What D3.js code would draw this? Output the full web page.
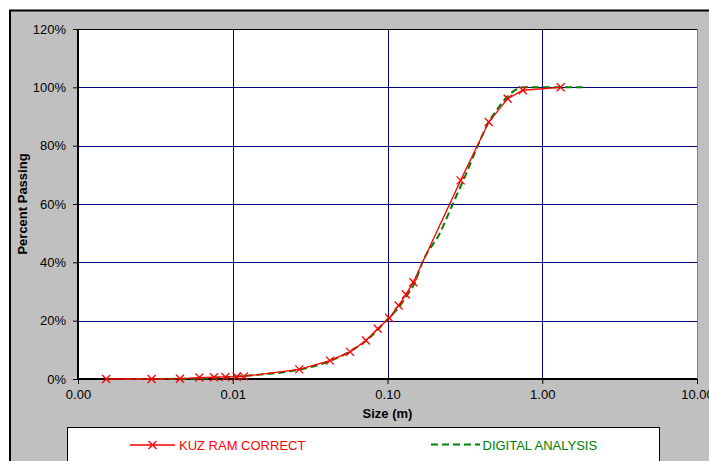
<!DOCTYPE html>
<html>
<head>
<meta charset="utf-8">
<script src="https://cdn.jsdelivr.net/npm/d3@7"></script>
<style>
  body { margin: 0; background: #fff; }
  svg { display: block; font-family: Arial, "Liberation Sans", sans-serif; }
</style>
</head>
<body>
<svg width="709" height="461"></svg>
<script>
// KUZ RAM CORRECT series (size in m, percent passing)
var kuzSize = [0.00152, 0.00299, 0.00456, 0.00608, 0.00757, 0.00896, 0.0106, 0.0118,
               0.0269, 0.0425, 0.0573, 0.0726, 0.0865, 0.1027, 0.118, 0.1316, 0.1468,
               0.297, 0.451, 0.598, 0.748, 1.316];
var kuzPass = [0, 0, 0.1, 0.5, 0.6, 0.7, 0.8, 0.9,
               3.3, 6.3, 9.3, 13.2, 17.2, 20.9, 25.2, 29.0, 33.2,
               68.1, 88.1, 96.1, 99.0, 100];

// DIGITAL ANALYSIS series
var digSize = [0.002, 0.003, 0.005, 0.007, 0.01, 0.015, 0.027, 0.043, 0.057, 0.073,
               0.087, 0.1, 0.12, 0.135, 0.15, 0.168, 0.218, 0.264, 0.32, 0.383,
               0.45, 0.52, 0.6, 0.68, 0.75, 1.0, 1.4, 1.9];
var digPass = [0, 0, 0.1, 0.3, 0.8, 1.5, 3.2, 6.3, 9.4, 13.2,
               17, 20.5, 25, 29, 33, 40, 50, 60, 70, 80,
               88, 93, 97, 99.3, 100, 100, 100, 100];

var xTicks = [0.001, 0.01, 0.1, 1, 10];
var xTickLabels = ["0.00", "0.01", "0.10", "1.00", "10.00"];
var yTicks = [0, 20, 40, 60, 80, 100, 120];

var svg = d3.select("svg"),
    margin = {top: 29, right: 12, bottom: 82, left: 78},
    width = 709 - margin.left - margin.right,
    height = 461 - margin.top - margin.bottom;

// outer chart area
svg.append("rect")
    .attr("x", 10).attr("y", 10.5)
    .attr("width", 720).attr("height", 460)
    .attr("fill", "#c0c0c0")
    .attr("stroke", "#000").attr("stroke-width", 2);

var g = svg.append("g").attr("transform", "translate(" + margin.left + "," + margin.top + ")");

var x = d3.scaleLog().domain([0.001, 10]).range([0, width]);
var y = d3.scaleLinear().domain([0, 120]).range([height, 0]);

// plot area
g.append("rect")
    .attr("width", width).attr("height", height)
    .attr("fill", "#fff");

// gridlines
g.selectAll(".hgrid")
    .data(yTicks.filter(function(d) { return d > 0 && d < 120; }))
  .enter().append("line")
    .attr("x1", 0).attr("x2", width)
    .attr("y1", function(d) { return Math.round(y(d)) + 0.5; })
    .attr("y2", function(d) { return Math.round(y(d)) + 0.5; })
    .attr("stroke", "#000080").attr("stroke-width", 1);

g.selectAll(".vgrid")
    .data(xTicks.slice(1, -1))
  .enter().append("line")
    .attr("x1", function(d) { return Math.round(x(d)) + 0.5; })
    .attr("x2", function(d) { return Math.round(x(d)) + 0.5; })
    .attr("y1", 0).attr("y2", height)
    .attr("stroke", "#000080").attr("stroke-width", 1);

// plot border
g.append("line").attr("x1", width + 0.5).attr("x2", width + 0.5)
    .attr("y1", 0).attr("y2", height).attr("stroke", "#808080");
g.append("line").attr("x1", 0).attr("x2", width)
    .attr("y1", 0.5).attr("y2", 0.5).attr("stroke", "#000");

// axes
var yAxis = g.append("g")
    .call(d3.axisLeft(y).tickValues(yTicks).tickSize(5).tickPadding(7)
      .tickFormat(function(d) { return d + "%"; }));
var xAxis = g.append("g")
    .attr("transform", "translate(0," + height + ")")
    .call(d3.axisBottom(x).tickValues(xTicks).tickSize(5).tickPadding(6)
      .tickFormat(function(d, i) { return xTickLabels[i]; }));

[yAxis, xAxis].forEach(function(a) {
  a.select(".domain").attr("stroke", "#000").attr("stroke-width", 2);
  a.selectAll(".tick line").attr("stroke", "#000");
  a.selectAll("text").attr("font-size", 13).attr("fill", "#000")
    .attr("font-family", "Arial, 'Liberation Sans', sans-serif");
});
xAxis.select(".domain").attr("d", "M0,0H" + width);
yAxis.select(".domain").attr("d", "M0,0V" + height);

// axis titles
svg.append("text")
    .attr("x", margin.left + x(0.1)).attr("y", 418)
    .attr("text-anchor", "middle")
    .attr("font-size", 13).attr("font-weight", "bold")
    .text("Size (m)");
svg.append("text")
    .attr("transform", "translate(27," + (margin.top + y(60)) + ") rotate(-90)")
    .attr("text-anchor", "middle")
    .attr("font-size", 13).attr("font-weight", "bold")
    .text("Percent Passing");

// lines
var kuz = kuzSize.map(function(s, i) { return {s: s, p: kuzPass[i]}; });
var dig = digSize.map(function(s, i) { return {s: s, p: digPass[i]}; });

var line = d3.line()
    .x(function(d) { return x(d.s); })
    .y(function(d) { return y(d.p); });

g.append("path")
    .datum(dig)
    .attr("fill", "none")
    .attr("stroke", "#008000")
    .attr("stroke-width", 2)
    .attr("stroke-dasharray", "7,4")
    .attr("d", line.curve(d3.curveMonotoneX));

g.append("path")
    .datum(kuz)
    .attr("fill", "none")
    .attr("stroke", "#ff0000")
    .attr("stroke-width", 1.3)
    .attr("d", line.curve(d3.curveLinear));

function cross(sel, r) {
  sel.append("path")
    .attr("d", "M" + (-r) + "," + (-r) + "L" + r + "," + r + "M" + (-r) + "," + r + "L" + r + "," + (-r))
    .attr("stroke", "#ff0000").attr("stroke-width", 1.3).attr("fill", "none");
}

g.selectAll(".mk")
    .data(kuz)
  .enter().append("g")
    .attr("transform", function(d) { return "translate(" + x(d.s) + "," + y(d.p) + ")"; })
    .each(function() { cross(d3.select(this), 4); });

// legend
var lg = svg.append("g");
lg.append("rect")
    .attr("x", 67.5).attr("y", 427.5)
    .attr("width", 592).attr("height", 60)
    .attr("fill", "#fff").attr("stroke", "#000").attr("stroke-width", 1);

lg.append("line").attr("x1", 130).attr("x2", 175).attr("y1", 445).attr("y2", 445)
    .attr("stroke", "#ff0000").attr("stroke-width", 1.3);
cross(lg.append("g").attr("transform", "translate(152.5,445)"), 4);
lg.append("text").attr("x", 179).attr("y", 449.5)
    .attr("font-size", 13).attr("fill", "#ff0000").text("KUZ RAM CORRECT");

lg.append("line").attr("x1", 431).attr("x2", 480).attr("y1", 444.5).attr("y2", 444.5)
    .attr("stroke", "#008000").attr("stroke-width", 2).attr("stroke-dasharray", "7,4");
lg.append("text").attr("x", 482.5).attr("y", 449.5)
    .attr("font-size", 13).attr("fill", "#008000").text("DIGITAL ANALYSIS");
</script>
</body>
</html>
